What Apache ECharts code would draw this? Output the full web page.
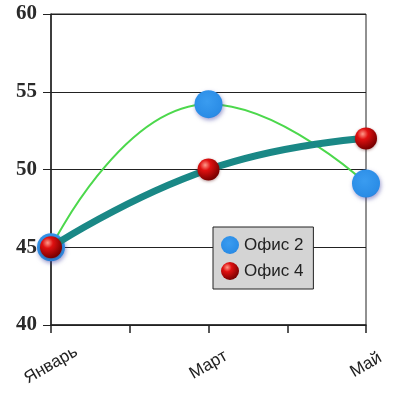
<!DOCTYPE html>
<html><head><meta charset="utf-8">
<script src="https://cdn.jsdelivr.net/npm/echarts@6/dist/echarts.min.js"></script>
<style>html,body{margin:0;padding:0;background:#fff}#c{width:408px;height:397px}</style>
</head><body><div id="c"></div>
<script>
const categories = ['Январь','Февраль','Март','Апрель','Май'];
const office2 = [45, null, 54.2, null, 49.1];
const office4 = [45, null, 50, null, 52];
const yTicks = [40, 45, 50, 55, 60];

const chart = echarts.init(document.getElementById('c'));
const redBall = new echarts.graphic.RadialGradient(0.35, 0.3, 0.7, [
  {offset:0, color:'#ff9a8a'},{offset:0.35, color:'#e01010'},{offset:1, color:'#7a0000'}]);
const blueBall = new echarts.graphic.RadialGradient(0.45, 0.4, 0.7, [
  {offset:0, color:'#3a9cf0'},{offset:0.8, color:'#2a8ce6'},{offset:1, color:'#2470c8'}]);
chart.setOption({
  animation:false,
  grid:{left:51,right:42,top:14,bottom:72,show:true,borderColor:'#222',borderWidth:1},
  legend:{
    orient:'vertical',left:213,top:227,
    backgroundColor:'#d4d4d4',borderColor:'#222',borderWidth:1,
    padding:[9,10,9,8],itemGap:8,itemWidth:18,itemHeight:18,
    textStyle:{fontFamily:'Liberation Sans',fontSize:17,color:'#222'},
    data:[{name:'Офис 2',icon:'circle'},{name:'Офис 4',icon:'circle'}]
  },
  xAxis:{
    type:'category',data:categories,boundaryGap:false,
    axisLine:{lineStyle:{color:'#222',width:1.5}},
    axisTick:{show:true,interval:0,length:8,lineStyle:{color:'#222',width:1.5}},
    axisLabel:{interval:1,rotate:30,margin:40,align:'center',verticalAlign:'middle',
      fontFamily:'Liberation Sans',fontSize:17,color:'#222'},
    splitLine:{show:false}
  },
  yAxis:{
    type:'value',min:yTicks[0],max:yTicks[yTicks.length-1],interval:5,
    axisLine:{show:true,lineStyle:{color:'#222',width:1.5}},
    axisTick:{show:true,length:8,lineStyle:{color:'#222'}},
    axisLabel:{fontFamily:'Liberation Serif',fontSize:21,fontWeight:'bold',color:'#2a2a2a',margin:14},
    splitLine:{lineStyle:{color:'#222',width:1}}
  },
  series:[
    {name:'Офис 2',type:'line',data:office2,connectNulls:true,smooth:0.5,
     lineStyle:{color:'#4cd84c',width:2},
     symbol:'circle',symbolSize:28,
     itemStyle:{color:blueBall,shadowColor:'rgba(60,60,160,0.5)',shadowBlur:4,shadowOffsetX:1,shadowOffsetY:2},
     z:2},
    {name:'Офис 4',type:'line',data:office4,connectNulls:true,smooth:0.5,
     lineStyle:{color:'#1a8886',width:7},
     symbol:'circle',symbolSize:22,
     itemStyle:{color:redBall,shadowColor:'rgba(80,0,0,0.4)',shadowBlur:3,shadowOffsetY:1},
     z:3}
  ]
});
</script></body></html>
